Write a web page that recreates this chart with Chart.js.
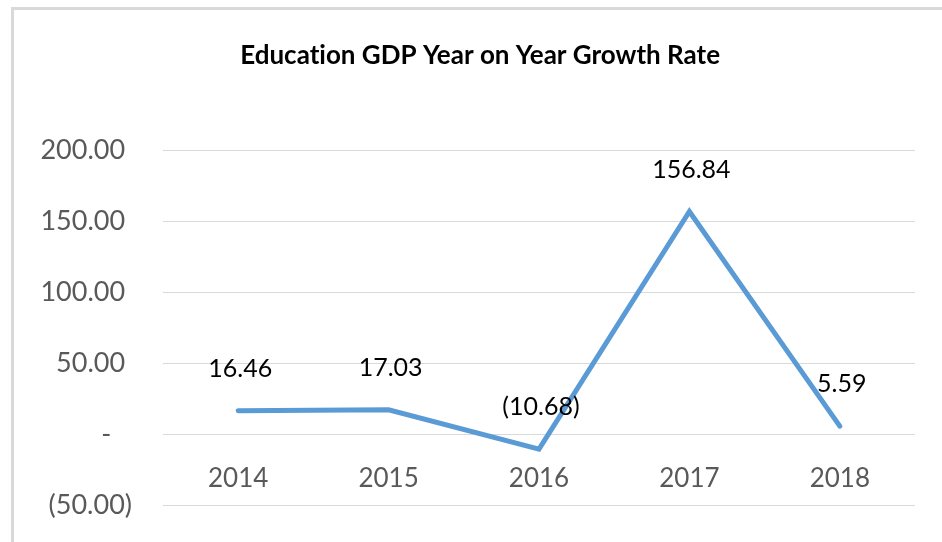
<!DOCTYPE html>
<html>
<head>
<meta charset="utf-8">
<script src="https://cdn.jsdelivr.net/npm/chart.js@4"></script>
<style>
  html, body { margin: 0; padding: 0; background: #fff; }
  #wrap { position: relative; width: 942px; height: 542px; overflow: hidden; }
  #frame { position: absolute; left: 11px; top: 7px; width: 960px; height: 560px;
           border-left: 3px solid #d9d9d9; border-top: 3px solid #d9d9d9; }
  canvas { position: absolute; left: 0; top: 0; }
</style>
</head>
<body>
<div id="wrap">
  <div id="frame"></div>
  <canvas id="growthChart" width="942" height="542"></canvas>
</div>
<script>
// años y tasa de crecimiento interanual
const years = ['2014', '2015', '2016', '2017', '2018'];
const growthRate = [16.46, 17.03, -10.68, 156.84, 5.59];
const yTicks = [-50, 0, 50, 100, 150, 200];

// formato contable: negativos entre paréntesis, cero como guion
function accounting(v) {
  if (v === 0) return '-';
  const s = Math.abs(v).toFixed(2);
  return v < 0 ? '(' + s + ')' : s;
}

// etiquetas de datos encima de cada punto
const valueLabels = {
  id: 'valueLabels',
  afterDatasetsDraw(chart) {
    const ctx = chart.ctx;
    const meta = chart.getDatasetMeta(0);
    ctx.save();
    ctx.font = '25px Lato';
    ctx.fillStyle = '#000';
    ctx.textAlign = 'center';
    ctx.textBaseline = 'middle';
    meta.data.forEach((pt, i) => {
      ctx.fillText(accounting(growthRate[i]), pt.x + 2, pt.y - 42);
    });
    ctx.restore();
  }
};

const ctx = document.getElementById('growthChart').getContext('2d');
const growthChart = new Chart(ctx, {
  type: 'line',
  data: {
    labels: years,
    datasets: [{
      data: growthRate,
      borderColor: '#5b9bd5',
      borderWidth: 5,
      borderCapStyle: 'round',
      pointRadius: 0,
      tension: 0
    }]
  },
  options: {
    responsive: false,
    animation: false,
    layout: { padding: { left: 20, right: 27, top: 0, bottom: 37 } },
    plugins: {
      legend: { display: false },
      tooltip: { enabled: false },
      title: {
        display: true,
        // espacios iniciales para desplazar el título; \u200C evita la ligadura "ti"
        text: '    Educat\u200Cion GDP Year on Year Growth Rate',
        color: '#000',
        font: { family: 'Lato', size: 26, weight: 'bold' },
        padding: { top: 40, bottom: 79 }
      }
    },
    scales: {
      x: {
        position: { y: 0 },
        offset: true,
        afterFit(scale) { scale.height = 0; },
        grid: { display: false },
        border: { display: false },
        ticks: { color: '#595959', font: { family: 'Lato', size: 26 }, padding: 21 }
      },
      y: {
        min: -50,
        max: 200,
        afterBuildTicks(scale) {
          scale.ticks = yTicks.map(v => ({ value: v }));
        },
        afterFit(scale) {
          scale.width = 143;
          scale.paddingBottom = 0;
        },
        grid: { color: '#d9d9d9', lineWidth: 1, drawTicks: false },
        border: { display: false },
        ticks: {
          color: '#595959',
          font: { family: 'Lato', size: 27 },
          padding: 31,
          callback: (v) => v === 0 ? '-   ' : (v > 0 ? accounting(v) + ' ' : accounting(v))
        }
      }
    }
  },
  plugins: [valueLabels]
});
</script>
</body>
</html>
